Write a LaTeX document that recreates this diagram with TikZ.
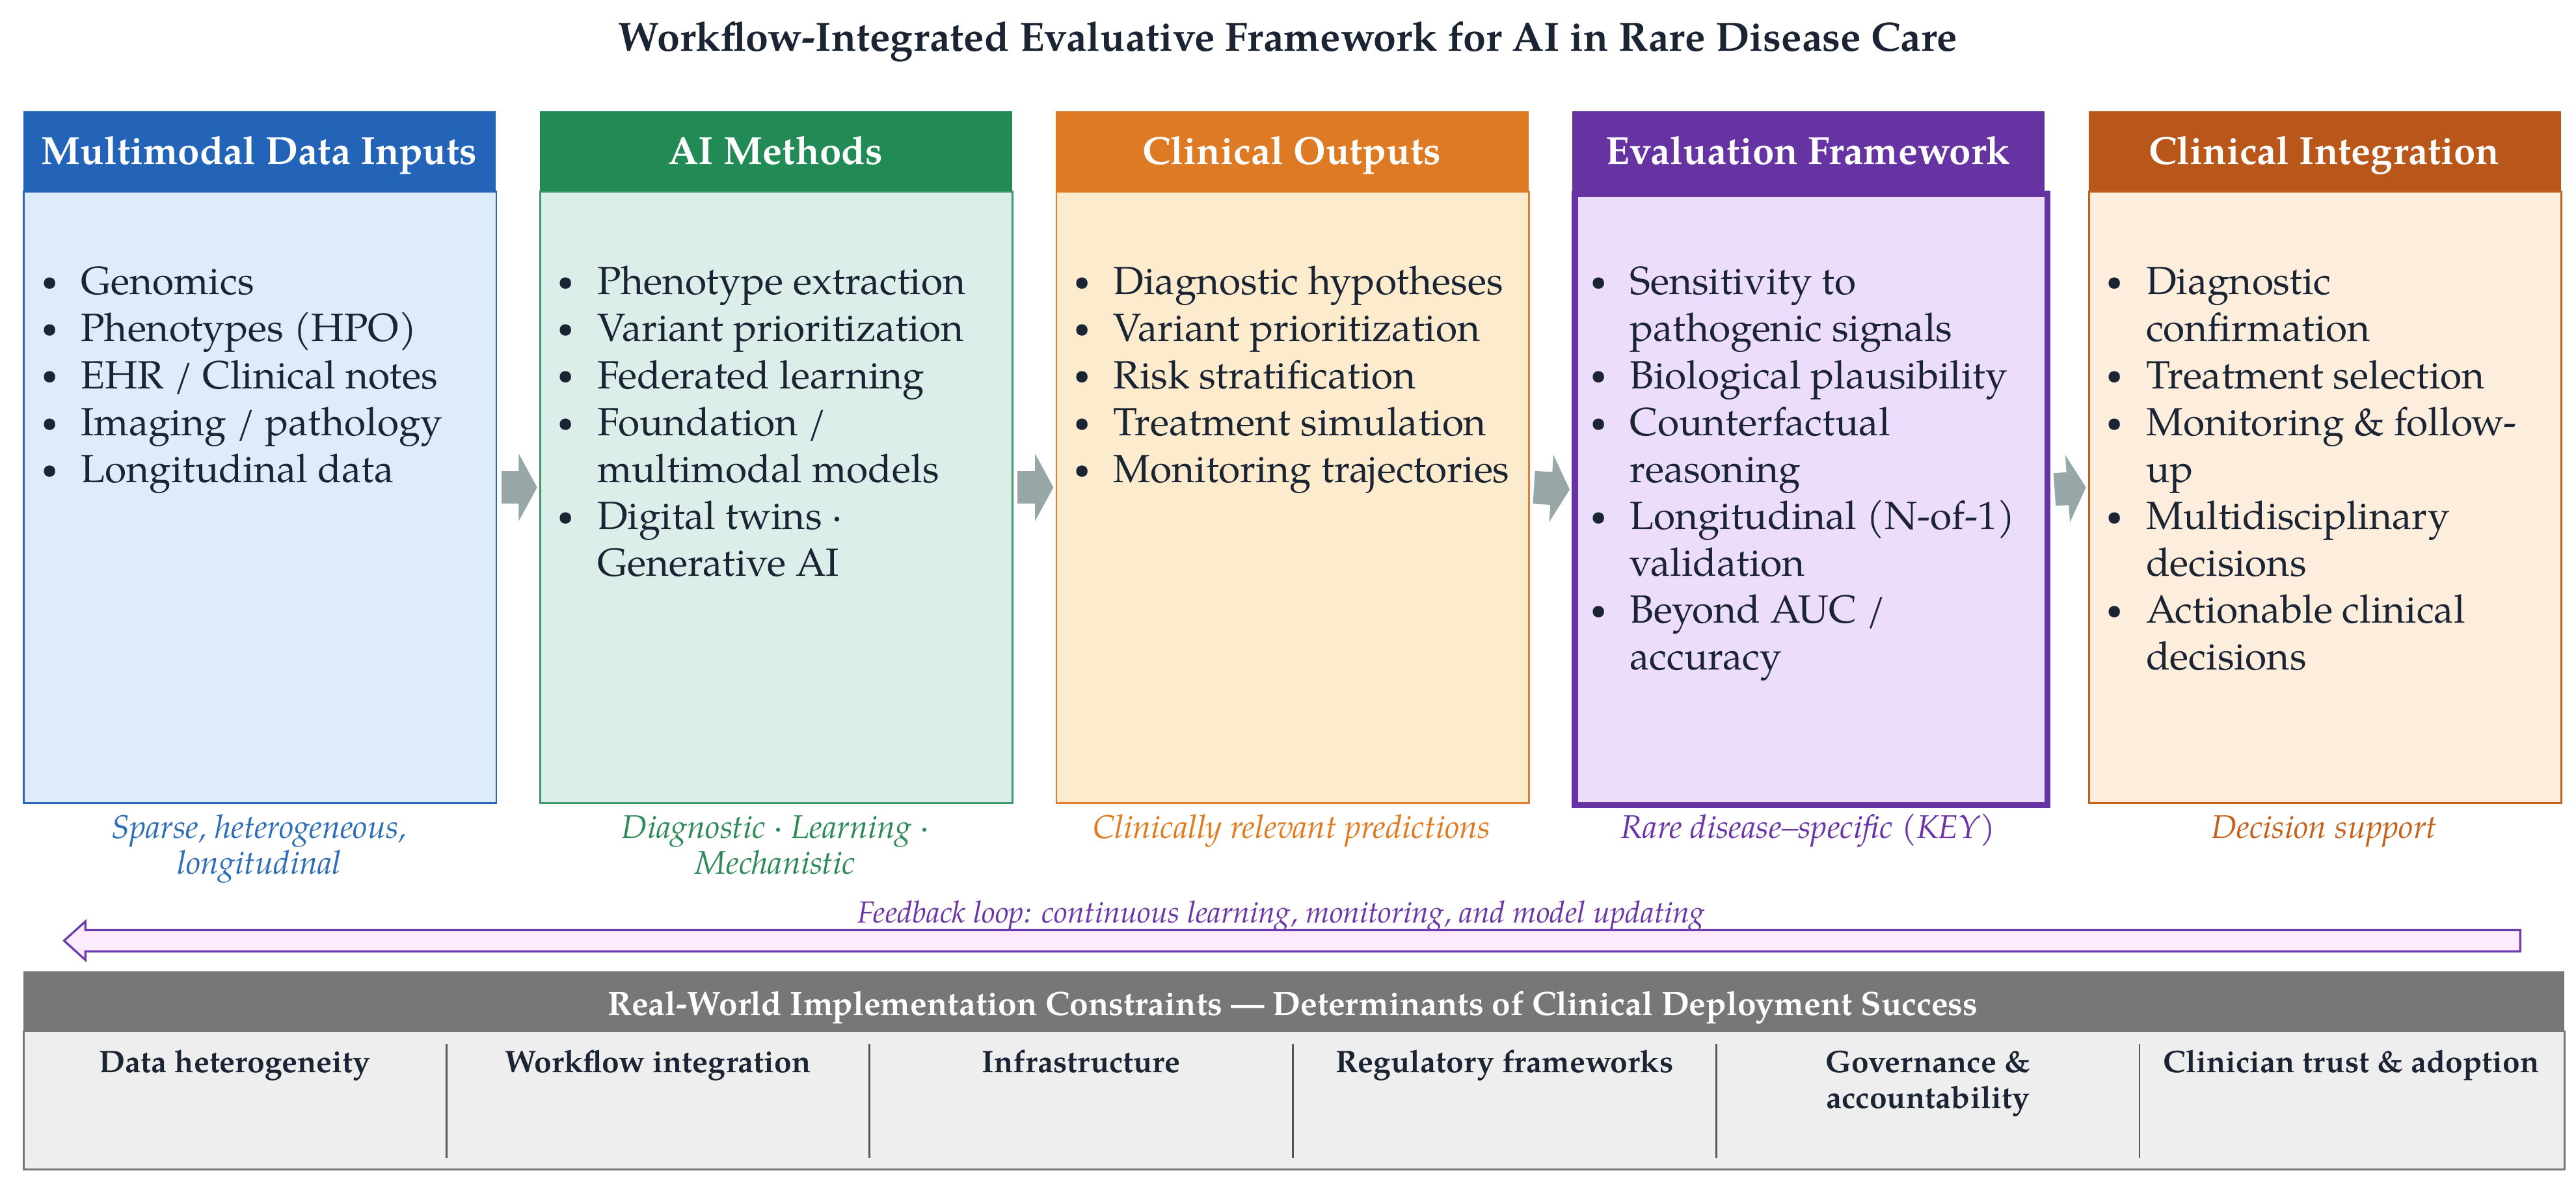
\documentclass[tikz,border=0pt]{standalone}
\usepackage{fontspec}
\usepackage{graphicx}
\setmainfont{TeX Gyre Pagella}
\usetikzlibrary{arrows.meta,calc}
\definecolor{ink}{HTML}{1B2433}
\definecolor{hblue}{HTML}{2364B8}
\definecolor{bblue}{HTML}{DDEBFB}
\definecolor{kblue}{HTML}{2A66B5}
\definecolor{cblue}{HTML}{2E6DB8}
\definecolor{hgreen}{HTML}{218A55}
\definecolor{bgreen}{HTML}{DCEEEA}
\definecolor{kgreen}{HTML}{3C9A6A}
\definecolor{cgreen}{HTML}{2E8B57}
\definecolor{horange}{HTML}{DF7A24}
\definecolor{borange}{HTML}{FDEBCD}
\definecolor{korange}{HTML}{E27B2A}
\definecolor{corange}{HTML}{E07B20}
\definecolor{hpurple}{HTML}{6633A3}
\definecolor{bpurple}{HTML}{ECDDFC}
\definecolor{cpurple}{HTML}{6A35A8}
\definecolor{hrust}{HTML}{B9561A}
\definecolor{brust}{HTML}{FDEDDD}
\definecolor{krust}{HTML}{C0601E}
\definecolor{crust}{HTML}{C4621C}
\definecolor{flowgray}{HTML}{97A6A7}
\definecolor{fbfill}{HTML}{FCEBFD}
\definecolor{fbline}{HTML}{6B3AAE}
\definecolor{bardark}{HTML}{777777}
\definecolor{barlight}{HTML}{EEEEEE}
\definecolor{divgray}{HTML}{555555}
\newcommand\bul{\makebox[0.25cm][c]{\raisebox{0.1em}{\scalebox{0.72}{\textbullet}}}}
\tikzset{
  hdr/.style={anchor=north west, inner sep=0pt, minimum width=7.1875cm, minimum height=1.2125cm},
  bodybox/.style={anchor=north west, inner sep=0pt, minimum width=7.1875cm, minimum height=9.3cm, line width=0.8pt},
  hdrtext/.style={anchor=base, inner sep=0pt, text=white, font=\fontsize{16.9}{20}\selectfont\bfseries},
  titletext/.style={anchor=base, inner sep=0pt, text=ink, font=\fontsize{17.7}{21}\selectfont\bfseries},
  listtext/.style={anchor=base west, inner sep=0pt, text=ink, font=\fontsize{17}{20.3}\selectfont},
  captext/.style={anchor=base, inner sep=0pt, font=\fontsize{14.2}{15.6}\selectfont\itshape},
  fbtext/.style={anchor=base, inner sep=0pt, text=cpurple, font=\fontsize{13.2}{15}\selectfont\itshape},
  flowarrow/.style={draw=flowgray, line width=0.5cm, -{Triangle[length=0.28cm,width=1.015cm]}},
  fbarrow/.style={draw=fbline, fill=fbfill, line width=0.9pt, line join=miter},
  bartext/.style={anchor=base, inner sep=0pt, text=white, font=\fontsize{14.5}{18}\selectfont\bfseries},
  celltext/.style={anchor=base, inner sep=0pt, text=ink, font=\fontsize{13.5}{15.6}\selectfont\bfseries},
  divider/.style={draw=divgray, line width=0.8pt}
}
\begin{document}
\begin{tikzpicture}[x=0.025cm,y=-0.025cm]
\useasboundingbox[fill=white] (0,0) rectangle (1568,723);

\node[titletext] (title) at (784,31) {Workflow-Integrated Evaluative Framework for AI in Rare Disease Care};

% box 1
\node[bodybox, fill=bblue, draw=kblue] (b1) at (14,116) {};
\node[hdr, fill=hblue] (h1) at (14,67.5) {};
\node[hdrtext] (ht1) at (157.75,100) {Multimodal Data Inputs};
\node[listtext] (l1) at (25,179.3) {\begin{tabular}[t]{@{}p{0.6cm}@{}l@{}}
\bul & Genomics\\
\bul & Phenotypes (HPO)\\
\bul & EHR / Clinical notes\\
\bul & Imaging / pathology\\
\bul & Longitudinal data
\end{tabular}};
\node[captext, text=cblue] (c1) at (157.75,510) {\begin{tabular}[t]{@{}c@{}}Sparse, heterogeneous,\\ longitudinal\end{tabular}};

% box 2
\node[bodybox, fill=bgreen, draw=kgreen] (b2) at (328.25,116) {};
\node[hdr, fill=hgreen] (h2) at (328.25,67.5) {};
\node[hdrtext] (ht2) at (472,100) {AI Methods};
\node[listtext] (l2) at (339.25,179.3) {\begin{tabular}[t]{@{}p{0.6cm}@{}l@{}}
\bul & Phenotype extraction\\
\bul & Variant prioritization\\
\bul & Federated learning\\
\bul & Foundation /\\
 & multimodal models\\
\bul & Digital twins ·\\
 & Generative AI
\end{tabular}};
\node[captext, text=cgreen] (c2) at (472,510) {\begin{tabular}[t]{@{}c@{}}Diagnostic · Learning ·\\ Mechanistic\end{tabular}};

% box 3
\node[bodybox, fill=borange, draw=korange] (b3) at (642.5,116) {};
\node[hdr, fill=horange] (h3) at (642.5,67.5) {};
\node[hdrtext] (ht3) at (786.25,100) {Clinical Outputs};
\node[listtext] (l3) at (653.5,179.3) {\begin{tabular}[t]{@{}p{0.6cm}@{}l@{}}
\bul & Diagnostic hypotheses\\
\bul & Variant prioritization\\
\bul & Risk stratification\\
\bul & Treatment simulation\\
\bul & Monitoring trajectories
\end{tabular}};
\node[captext, text=corange] (c3) at (786.25,510) {Clinically relevant predictions};

% box 4
\node[bodybox, fill=bpurple, draw=hpurple, line width=2.7pt] (b4) at (956.75,116) {};
\node[hdr, fill=hpurple] (h4) at (956.75,67.5) {};
\node[hdrtext] (ht4) at (1100.5,100) {Evaluation Framework};
\node[listtext] (l4) at (967.75,179.3) {\begin{tabular}[t]{@{}p{0.6cm}@{}l@{}}
\bul & Sensitivity to\\
 & pathogenic signals\\
\bul & Biological plausibility\\
\bul & Counterfactual\\
 & reasoning\\
\bul & Longitudinal (N-of-1)\\
 & validation\\
\bul & Beyond AUC /\\
 & accuracy
\end{tabular}};
\node[captext, text=cpurple] (c4) at (1100.5,510) {Rare disease--specific (KEY)};

% box 5
\node[bodybox, fill=brust, draw=krust] (b5) at (1271,116) {};
\node[hdr, fill=hrust] (h5) at (1271,67.5) {};
\node[hdrtext] (ht5) at (1414.75,100) {Clinical Integration};
\node[listtext] (l5) at (1282,179.3) {\begin{tabular}[t]{@{}p{0.6cm}@{}l@{}}
\bul & Diagnostic\\
 & confirmation\\
\bul & Treatment selection\\
\bul & Monitoring \& follow-\\
 & up\\
\bul & Multidisciplinary\\
 & decisions\\
\bul & Actionable clinical\\
 & decisions
\end{tabular}};
\node[captext, text=crust] (c5) at (1414.75,510) {Decision support};

% flow arrows
\draw[flowarrow] ($(b1.east)+(2.5,-6)$) -- ($(b2.west)+(-1.3,-6)$);
\draw[flowarrow] ($(b2.east)+(2.5,-6)$) -- ($(b3.west)+(-1.3,-6)$);
\draw[flowarrow] ($(b3.east)+(2.5,-6)$) -- ($(b4.west)+(-1.3,-6)$);
\draw[flowarrow] ($(b4.east)+(2.5,-6)$) -- ($(b5.west)+(-1.3,-6)$);

% feedback loop
\node[fbtext] (fbl) at (780,561.5) {Feedback loop: continuous learning, monitoring, and model updating};
\coordinate (fbR) at (1534,572.5);
\coordinate (fbL) at (39,572.5);
\draw[fbarrow] ($(fbR)+(0,-6.5)$) -- ($(fbL)+(13,-6.5)$) -- ($(fbL)+(13,-11.75)$) -- (fbL)
  -- ($(fbL)+(13,11.75)$) -- ($(fbL)+(13,6.5)$) -- ($(fbR)+(0,6.5)$) -- cycle;

% bottom bar
\node[anchor=north west, inner sep=0pt, minimum width=38.65cm, minimum height=0.9cm, fill=bardark] (bar) at (14,591) {};
\node[bartext] (bart) at (787,617.7) {Real-World Implementation Constraints --- Determinants of Clinical Deployment Success};
\node[anchor=north west, inner sep=0pt, minimum width=38.65cm, minimum height=2.1cm, fill=barlight, draw=bardark, line width=0.8pt] (cells) at (14,627) {};
\draw[divider] (271.67,635.5) -- (271.67,705);
\draw[divider] (529.33,635.5) -- (529.33,705);
\draw[divider] (787,635.5) -- (787,705);
\draw[divider] (1044.67,635.5) -- (1044.67,705);
\draw[divider] (1302.33,635.5) -- (1302.33,705);
\node[celltext] (k1) at (142.83,652.6) {Data heterogeneity};
\node[celltext] (k2) at (400.5,652.6) {Workflow integration};
\node[celltext] (k3) at (658.17,652.6) {Infrastructure};
\node[celltext] (k4) at (915.83,652.6) {Regulatory frameworks};
\node[celltext] (k5) at (1173.5,652.6) {\begin{tabular}[t]{@{}c@{}}Governance \&\\ accountability\end{tabular}};
\node[celltext] (k6) at (1431.17,652.6) {Clinician trust \& adoption};
\end{tikzpicture}
\end{document}
